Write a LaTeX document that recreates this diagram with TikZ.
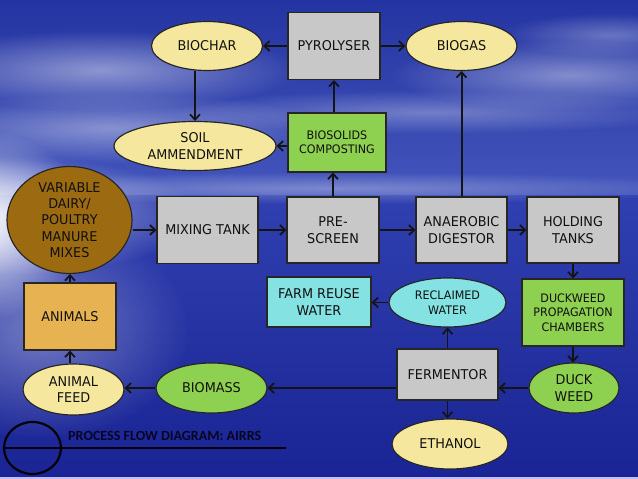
\documentclass[tikz,border=0pt]{standalone}
\usepackage{fontspec}
\setmainfont{DejaVu Sans}[FakeStretch=0.95]
\newfontfamily\footfont{Carlito}[BoldFont={Carlito Bold}]
\usetikzlibrary{shapes.geometric,arrows.meta,fadings}
\tikzfading[name=softglow, inner color=transparent!0, outer color=transparent!100]
\definecolor{bgtop}{RGB}{36,52,162}
\definecolor{bgmid}{RGB}{68,86,188}
\definecolor{bghor}{RGB}{48,64,176}
\definecolor{bgbot}{RGB}{26,36,148}
\definecolor{cyel}{RGB}{246,231,158}
\definecolor{cgry}{RGB}{200,200,200}
\definecolor{cgrn}{RGB}{142,208,80}
\definecolor{ccya}{RGB}{132,226,226}
\definecolor{cbrn}{RGB}{156,106,16}
\definecolor{cani}{RGB}{230,178,82}
\definecolor{cnavy}{RGB}{6,6,34}
\definecolor{ctxt}{RGB}{16,16,16}
\tikzset{
  base/.style={draw=black!85, line width=1pt, inner sep=0pt, align=center, text=ctxt,
    font=\fontsize{11.5}{14}\selectfont},
  box/.style={base, rectangle, fill=cgry},
  ell/.style={base, ellipse, fill=cyel},
  small/.style={font=\fontsize{10}{12.3}\selectfont},
  arr/.style={-{Straight Barb[length=4.5pt,width=8.5pt,line width=1.5pt]}, line width=1.7pt, draw=black!92},
  cloud/.style={white, path fading=softglow}
}
\begin{document}
\begin{tikzpicture}[x=0.03cm,y=-0.03cm]
\useasboundingbox (0,0) rectangle (638,479);
% background
\shade[top color=bgtop, bottom color=bgmid] (0,0) rectangle (638,195);
\shade[top color=bghor, bottom color=bgbot] (0,195) rectangle (638,479);
\fill[cloud, opacity=0.95] (-20,225) ellipse (110 and 95);
\fill[cloud, opacity=0.6] (0,215) ellipse (200 and 60);
\fill[cloud, opacity=0.35] (40,330) ellipse (150 and 110);
\fill[cloud, opacity=0.45] (100,70) ellipse (200 and 40);
\fill[cloud, opacity=0.4] (110,128) ellipse (220 and 35);
\fill[cloud, opacity=0.4] (570,75) ellipse (180 and 35);
\fill[cloud, opacity=0.3] (610,35) ellipse (110 and 22);
\fill[cloud, opacity=0.3] (430,112) ellipse (260 and 22);
\fill[cloud, opacity=0.3] (330,188) ellipse (400 and 16);
\fill[white!75!blue] (0,476.5) rectangle (638,479);
% nodes
\node[box, minimum width=2.76cm, minimum height=2.01cm] (pyro) at (334,46) {PYROLYSER};
\node[ell, minimum width=3.33cm, minimum height=1.47cm] (biochar) at (207,46) {BIOCHAR};
\node[ell, minimum width=3.33cm, minimum height=1.47cm] (biogas) at (461.5,46) {BIOGAS};
\node[box, small, fill=cgrn, minimum width=2.94cm, minimum height=1.77cm] (comp) at (337,142.5) {BIOSOLIDS\\COMPOSTING};
\node[ell, minimum width=4.86cm, minimum height=1.47cm] (soil) at (195,146) {SOIL\\AMMENDMENT};
\node[ell, fill=cbrn, minimum width=3.75cm, minimum height=2.88cm] (var) at (69.5,220) {VARIABLE\\DAIRY/\\POULTRY\\MANURE\\MIXES};
\node[box, minimum width=3.03cm, minimum height=2.01cm] (mix) at (207.5,230) {MIXING TANK};
\node[box, minimum width=2.76cm, minimum height=1.98cm] (pre) at (333,230) {PRE-\\SCREEN};
\node[box, minimum width=2.73cm, minimum height=1.98cm] (ana) at (461.5,230) {ANAEROBIC\\DIGESTOR};
\node[box, minimum width=2.76cm, minimum height=1.98cm] (hold) at (573,230) {HOLDING\\TANKS};
\node[box, fill=ccya, minimum width=3.12cm, minimum height=1.5cm] (farm) at (319,302) {FARM REUSE\\WATER};
\node[ell, small, fill=ccya, minimum width=3.51cm, minimum height=1.47cm] (recl) at (447.5,302.5) {RECLAIMED\\WATER};
\node[box, small, fill=cgrn, minimum width=3.06cm, minimum height=2.01cm] (prop) at (573,312.5) {DUCKWEED\\PROPAGATION\\CHAMBERS};
\node[box, minimum width=3.03cm, minimum height=1.53cm] (ferm) at (447.5,374.5) {FERMENTOR};
\node[ell, fill=cgrn, minimum width=2.7cm, minimum height=1.5cm] (duck) at (574,388) {DUCK\\WEED};
\node[ell, minimum width=3.48cm, minimum height=1.5cm] (eth) at (450,444) {ETHANOL};
\node[ell, fill=cgrn, minimum width=3.33cm, minimum height=1.5cm] (biomass) at (211.5,388) {BIOMASS};
\node[ell, minimum width=3.03cm, minimum height=1.53cm] (feed) at (73.5,389.5) {ANIMAL\\FEED};
\node[box, fill=cani, minimum width=2.76cm, minimum height=2.01cm] (animals) at (70,316.5) {ANIMALS};
% connectors
\draw[arr] (pyro.west) -- (biochar.east);
\draw[arr] (pyro.east) -- (biogas.west);
\draw[arr] (soil |- biochar.south) -- (soil.north);
\draw[arr] (comp.north -| pyro) -- (pyro.south);
\draw[arr] (comp.west |- soil) -- (soil.east);
\draw[arr] (pre.north) -- (pre.north |- comp.south);
\draw[arr] (var.east |- mix) -- (mix.west);
\draw[arr] (mix.east) -- (pre.west);
\draw[arr] (pre.east) -- (ana.west);
\draw[arr] (ana.east) -- (hold.west);
\draw[arr] (ana.north) -- (biogas.south);
\draw[arr] (hold.south) -- (prop.north);
\draw[arr] (prop.south) -- (prop.south |- duck.north);
\draw[arr] (duck.west) -- (duck.west -| ferm.east);
\draw[arr] (ferm.north) -- (recl.south);
\draw[arr] (recl.west) -- (recl.west -| farm.east);
\draw[arr] (ferm.south) -- (ferm.south |- eth.north);
\draw[arr] (ferm.west |- biomass) -- (biomass.east);
\draw[arr] (biomass.west) -- (biomass.west -| feed.east);
\draw[arr] (animals |- feed.north) -- (animals.south);
\draw[arr] (animals.north) -- (animals.north |- var.south);
% footer
\node[ellipse, draw=black, line width=1.8pt, minimum width=1.71cm, minimum height=1.56cm, inner sep=0pt] (ring) at (32.5,448) {};
\coordinate (lineend) at (286,448);
\draw[line width=2.2pt, black] (ring.west) -- (lineend);
\node[anchor=south west, inner sep=0pt, text=cnavy, font=\footfont\bfseries\fontsize{12}{14}\selectfont] (title) at (68,441) {PROCESS FLOW DIAGRAM: AIRRS};
\end{tikzpicture}
\end{document}
